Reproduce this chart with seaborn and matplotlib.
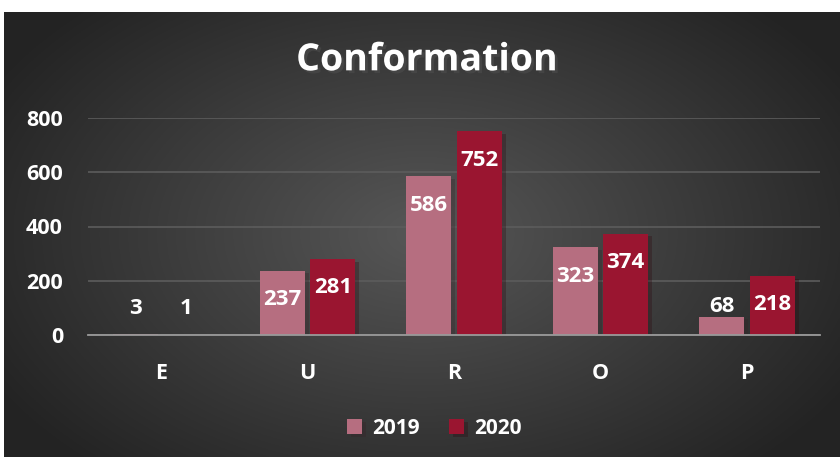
import numpy as np
import pandas as pd
import matplotlib
matplotlib.use('Agg')
import matplotlib.pyplot as plt
import matplotlib.patheffects as pe
import seaborn as sns

# data
categories = ['E', 'U', 'R', 'O', 'P']
values_2019 = [3, 237, 586, 323, 68]
values_2020 = [1, 281, 752, 374, 218]
years = ['2019', '2020']
colors = {'2019': '#B66E80', '2020': '#9A1530'}

df = pd.DataFrame({
    'cat': categories * 2,
    'year': [years[0]] * len(categories) + [years[1]] * len(categories),
    'val': values_2019 + values_2020,
})

sns.set_theme(style='dark')
plt.rcParams['font.family'] = ['Open Sans', 'DejaVu Sans']
plt.rcParams['font.weight'] = 'bold'

fig = plt.figure(figsize=(8.4, 4.57), dpi=100)
fig.patch.set_facecolor('white')

# radial gradient background
bg = fig.add_axes([4 / 840, 0, 836 / 840, 445 / 457])
yy, xx = np.mgrid[-1:1:300j, -1:1:500j]
r = np.sqrt((xx * 0.9) ** 2 + (yy * 0.75) ** 2)
shade = np.clip(0.34 - 0.19 * r, 0.14, 0.34)
bg.imshow(np.dstack([shade] * 3), aspect='auto', extent=[0, 1, 0, 1])
bg.axis('off')

ax = fig.add_axes([88 / 840, 122 / 457, 732 / 840, 217 / 457])
ax.patch.set_alpha(0)
sns.barplot(data=df, x='cat', y='val', hue='year', palette=colors,
            width=0.69, gap=0.11, ax=ax, saturation=1, legend=True,
            linewidth=0, edgecolor='none')

for bar in ax.patches:
    bar.set_path_effects([pe.SimplePatchShadow(offset=(3, -2), alpha=0.3), pe.Normal()])

ax.set_ylim(0, 800)
ax.set_xlim(-0.5, 4.5)
ax.set_yticks([0, 200, 400, 600, 800])
ax.grid(axis='y', color='#5c5c5c', linewidth=1.2)
ax.grid(axis='x', visible=False)
ax.set_axisbelow(True)
for s in ['top', 'right', 'left']:
    ax.spines[s].set_visible(False)
ax.spines['bottom'].set_color('#9a9a9a')
ax.spines['bottom'].set_linewidth(1.3)
ax.set_xlabel('')
ax.set_ylabel('')
ax.tick_params(axis='both', colors='white', labelsize=15.5, length=0)
ax.tick_params(axis='x', pad=20)
ax.tick_params(axis='y', pad=18)
for lbl in ax.get_xticklabels() + ax.get_yticklabels():
    lbl.set_fontweight('bold')

# value labels: inside the top of tall bars, above short ones
px_per_unit = 217 / 800
for container in ax.containers:
    for bar in container:
        h = bar.get_height()
        x = bar.get_x() + bar.get_width() / 2
        if h * px_per_unit > 40:
            y = h - 29 / px_per_unit
        else:
            y = max(h + 10 / px_per_unit, 26 / px_per_unit)
        ax.text(x, y, f'{int(round(h))}', ha='center', va='center',
                color='white', fontsize=16, fontweight='bold')

leg = ax.legend(loc='center', bbox_to_anchor=(0.473, -0.43), ncol=2, frameon=False,
                fontsize=15, handlelength=0.72, handleheight=0.72, handletextpad=0.5,
                columnspacing=1.4)
for t in leg.get_texts():
    t.set_color('white')
    t.set_fontweight('bold')

title = fig.text(0.508, 0.868, 'Conformation', ha='center', va='center', color='white',
                 fontsize=27, fontweight='bold',
                 path_effects=[pe.withSimplePatchShadow(offset=(2, -2), alpha=0.6)])

fig.savefig('out.png', dpi=100)
